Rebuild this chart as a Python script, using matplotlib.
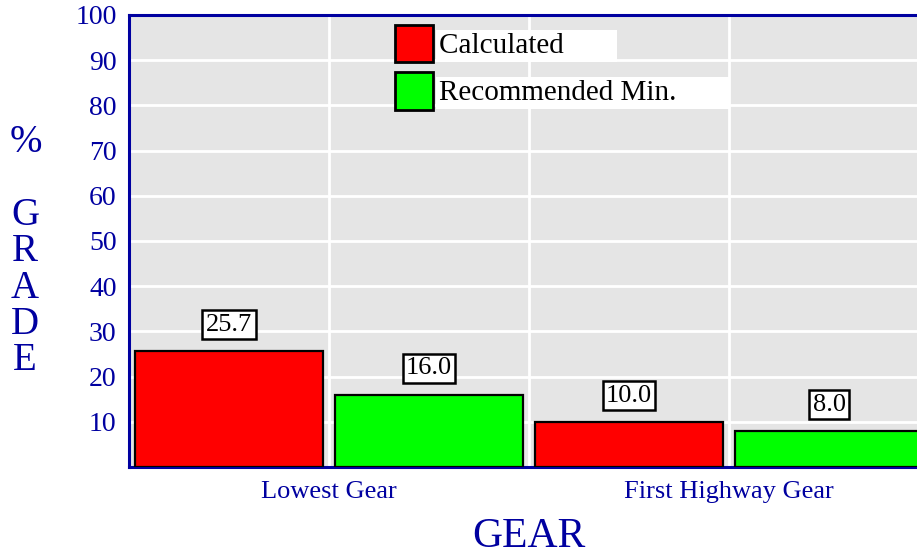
import matplotlib
matplotlib.use("Agg")
import matplotlib.pyplot as plt
import numpy as np

categories = ["Lowest Gear", "First Highway Gear"]
series_names = ["Calculated", "Recommended Min."]
calculated = [25.7, 10.0]
recommended = [16.0, 8.0]
y_ticks = [10, 20, 30, 40, 50, 60, 70, 80, 90, 100]

BLUE = "#0000A0"
W, H = 917, 558
plt.rcParams['font.family'] = ['Liberation Serif', 'DejaVu Serif']

fig = plt.figure(figsize=(W / 100, H / 100), dpi=100)
ax = fig.add_axes([129 / W, (H - 467) / H, 800 / W, 452 / H])
ax.set_facecolor("#E5E5E5")

x = np.arange(len(categories))
bw = 0.47
b1 = ax.bar(x - 0.25, calculated, bw, color="#FF0000", edgecolor="black",
            linewidth=1.6, label=series_names[0], zorder=3)
b2 = ax.bar(x + 0.25, recommended, bw, color="#00FF00", edgecolor="black",
            linewidth=1.6, label=series_names[1], zorder=3)

for bars in (b1, b2):
    anns = ax.bar_label(bars, fmt="%.1f", padding=11, fontsize=19, color="black",
                        zorder=5)
    for a in anns:
        a.set_bbox(dict(boxstyle="square,pad=0.13", fc="white", ec="black", lw=1.8))

ax.set_xlim(-0.5, 1.5)
ax.set_ylim(0, 100)
ax.set_xticks(x)
ax.set_xticklabels(categories)
ax.set_xticks([0.5, 1.5], minor=True)
ax.set_yticks(y_ticks)
ax.tick_params(axis="both", which="both", length=0, colors=BLUE)
ax.tick_params(axis="y", pad=9, labelsize=20)
ax.tick_params(axis="x", pad=10, labelsize=19)
ax.grid(True, which="both", color="white", linewidth=2)
ax.set_axisbelow(True)

for s in ("left", "top", "bottom"):
    ax.spines[s].set_color(BLUE)
    ax.spines[s].set_linewidth(2.2)
ax.spines["right"].set_visible(False)

pad_labels = [series_names[0] + " " * 7, series_names[1] + " " * 7]
leg = ax.legend([b1, b2], pad_labels, loc="upper left",
                bbox_to_anchor=((395 - 129) / 800, (467 - 25) / 452),
                frameon=False, fontsize=21, handlelength=1.3, handleheight=1.6,
                handletextpad=0.2, labelspacing=0.33, borderpad=0, borderaxespad=0)
for p in leg.get_patches():
    p.set_linewidth(2)
for t in leg.get_texts():
    t.set_bbox(dict(boxstyle="square,pad=0.1", fc="white", ec="none"))

fig.text(26 / W, 1 - 143 / H, "%", color=BLUE, fontsize=28, ha="center", va="center")
fig.text(25 / W, 1 - 288 / H, "\n".join("GRADE"), color=BLUE, fontsize=28,
         ha="center", va="center", linespacing=0.98)
fig.text(529 / W, 1 - 537 / H, "GEAR", color=BLUE, fontsize=30, ha="center", va="center")

fig.savefig("out.png", dpi=100)
